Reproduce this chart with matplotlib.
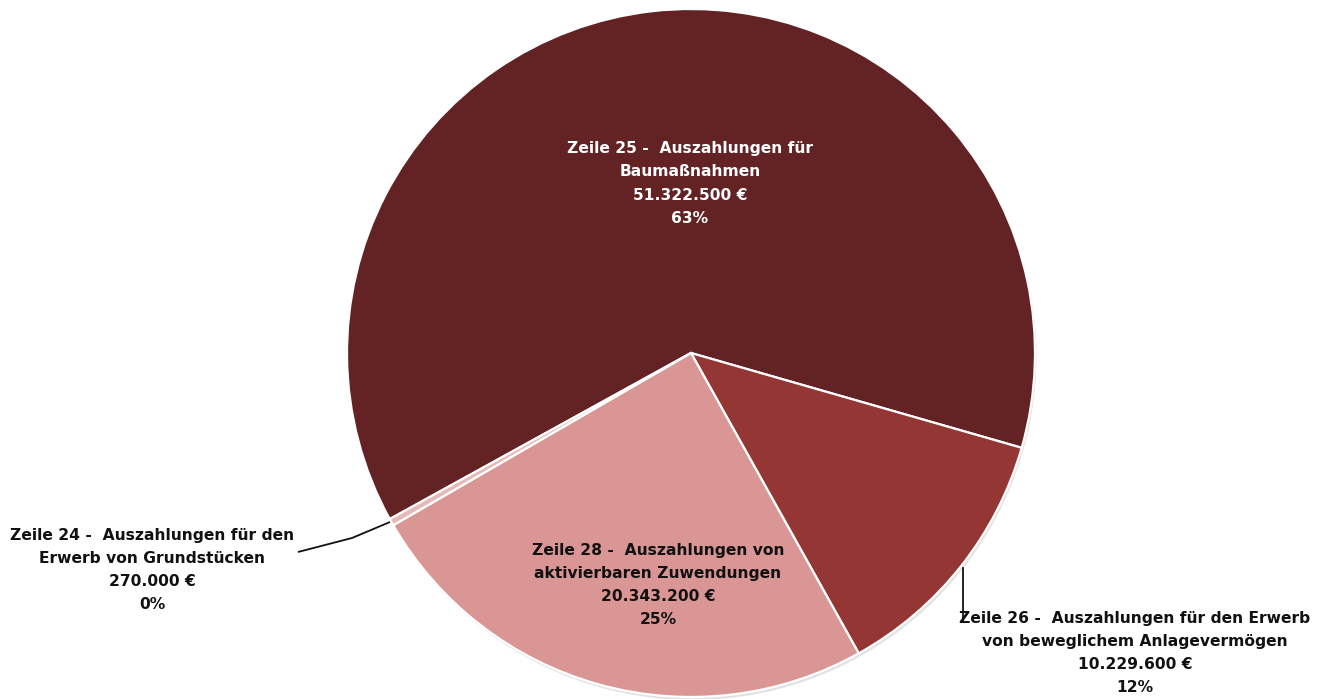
import matplotlib
matplotlib.use("Agg")
import matplotlib.pyplot as plt
from matplotlib.patches import Circle

# Auszahlungen aus Investitionstätigkeit, Haushaltsansatz
categories = [
    "Zeile 25 -  Auszahlungen für\nBaumaßnahmen",
    "Zeile 26 -  Auszahlungen für den Erwerb\nvon beweglichem Anlagevermögen",
    "Zeile 28 -  Auszahlungen von\naktivierbaren Zuwendungen",
    "Zeile 24 -  Auszahlungen für den\nErwerb von Grundstücken",
]
values = [51322500, 10229600, 20343200, 270000]
percent_labels = ["63%", "12%", "25%", "0%"]
colors = ["#632324", "#943634", "#D99694", "#E6B8B7"]

W, H = 1326, 699
fig = plt.figure(figsize=(W / 100, H / 100), dpi=100)
ax = fig.add_axes([0, 0, 1, 1])

cx, cy, r = 691, H - 353, 344
total = sum(values)

# soft drop shadow under the pie
ax.add_patch(Circle((cx + 1.5, cy - 3), r, facecolor="#cfcfcf", edgecolor="none",
                    alpha=0.6, zorder=0))

wedges, _ = ax.pie(values, colors=colors, startangle=-16 + 360 * values[0] / total,
                   counterclock=False, center=(cx, cy), radius=r, frame=True,
                   wedgeprops=dict(edgecolor="white", linewidth=1.6))
ax.set_xlim(0, W)
ax.set_ylim(0, H)
ax.set_aspect("equal")
ax.axis("off")


def fmt_eur(v):
    return f"{v:,.0f}".replace(",", ".") + " €"


def label(i):
    return f"{categories[i]}\n{fmt_eur(values[i])}\n{percent_labels[i]}"


font = dict(family=["DejaVu Sans"], fontweight="bold", fontsize=11.2,
            ha="center", va="center", linespacing=1.68)

ax.text(690, H - 183.5, label(0), color="white", **font)
ax.text(1135, H - 653, label(1), color="#111111", **font)
ax.text(658, H - 585, label(2), color="#111111", **font)
ax.text(152, H - 570, label(3), color="#111111", **font)

# leader lines for the outside labels
ax.plot([390, 352, 298], [H - 522, H - 538, H - 552], color="#111111", lw=1.3,
        solid_capstyle="butt")
ax.plot([963, 963], [H - 568, H - 622], color="#111111", lw=1.3)

fig.savefig("out.png", dpi=100)
